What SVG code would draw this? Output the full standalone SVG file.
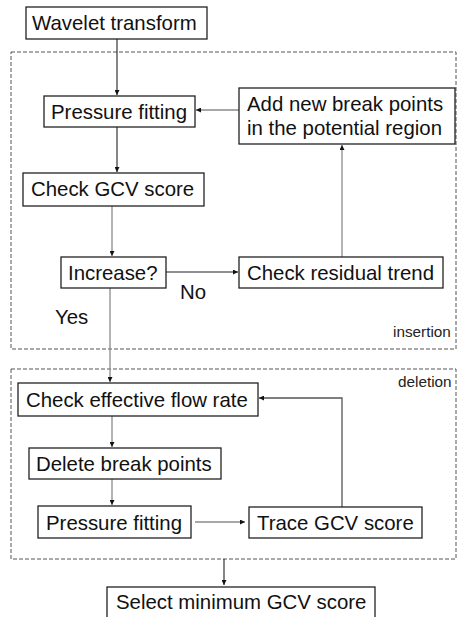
<svg xmlns="http://www.w3.org/2000/svg" width="457" height="617" viewBox="0 0 457 617">
<style>
.box{fill:#fff;stroke:#222;stroke-width:1.3}
.t{font-family:"Liberation Sans",Arial,sans-serif;font-size:20.4px;fill:#111}
.s{font-family:"Liberation Sans",Arial,sans-serif;font-size:15.3px;fill:#222}
.dash{fill:none;stroke:#555;stroke-width:1;stroke-dasharray:4 2}
.dk{fill:none;stroke:#222;stroke-width:1.1;marker-end:url(#ah)}
.gr{fill:none;stroke:#8a8a8a;stroke-width:1.3;marker-end:url(#ah)}
</style>
<defs>
<marker id="ah" viewBox="0 0 6 6" refX="6" refY="3" markerWidth="5" markerHeight="5" markerUnits="userSpaceOnUse" orient="auto">
<path d="M0,0 L6,3 L0,6 Z" fill="#111"/>
</marker>
</defs>
<g id="regions">
<rect class="dash" x="11" y="52" width="445" height="297"/>
<text class="s" x="393" y="337">insertion</text>
<rect class="dash" x="11" y="369" width="445" height="190"/>
<text class="s" x="398" y="387">deletion</text>
</g>
<g id="connectors">
<path class="dk" d="M117,39 V95"/>
<path class="gr" d="M239,110 H196"/>
<path class="dk" d="M117,127 V172"/>
<path class="gr" d="M112,206 V256"/>
<path class="dk" d="M166,272 H238"/>
<path class="gr" d="M342,257 V145"/>
<path class="gr" d="M110,288 V382"/>
<path class="gr" d="M112,416 V447"/>
<path class="gr" d="M112,479 V505"/>
<path class="gr" d="M195,522 H245"/>
<path class="gr" d="M342,507 V398 H259" style="stroke:#555"/>
<path class="dk" d="M224,559 V585"/>
<text class="t" x="180" y="299">No</text>
<text class="t" x="55" y="324">Yes</text>
</g>
<g id="wavelet"><rect class="box" x="26" y="7" width="181" height="32"/><text class="t" x="32" y="30">Wavelet transform</text></g>
<g id="pfit1"><rect class="box" x="44" y="96" width="151" height="31"/><text class="t" x="51" y="119">Pressure fitting</text></g>
<g id="addbp"><rect class="box" x="239" y="88" width="216" height="56"/><text class="t" x="247" y="111">Add new break points</text><text class="t" x="247" y="135">in the potential region</text></g>
<g id="gcv"><rect class="box" x="23" y="173" width="181" height="33"/><text class="t" x="31" y="196">Check GCV score</text></g>
<g id="increase"><rect class="box" x="61" y="257" width="105" height="31"/><text class="t" x="68" y="280">Increase?</text></g>
<g id="residual"><rect class="box" x="239" y="257" width="204" height="31"/><text class="t" x="247" y="280">Check residual trend</text></g>
<g id="flow"><rect class="box" x="18" y="383" width="240" height="33"/><text class="t" x="26" y="407">Check effective flow rate</text></g>
<g id="delete"><rect class="box" x="29" y="448" width="192" height="31"/><text class="t" x="36" y="471">Delete break points</text></g>
<g id="pfit2"><rect class="box" x="38" y="506" width="153" height="32"/><text class="t" x="46" y="530">Pressure fitting</text></g>
<g id="trace"><rect class="box" x="249" y="507" width="173" height="31"/><text class="t" x="257" y="530">Trace GCV score</text></g>
<g id="select"><rect class="box" x="107" y="587" width="268" height="40"/><text class="t" x="116" y="609">Select minimum GCV score</text></g>
</svg>
